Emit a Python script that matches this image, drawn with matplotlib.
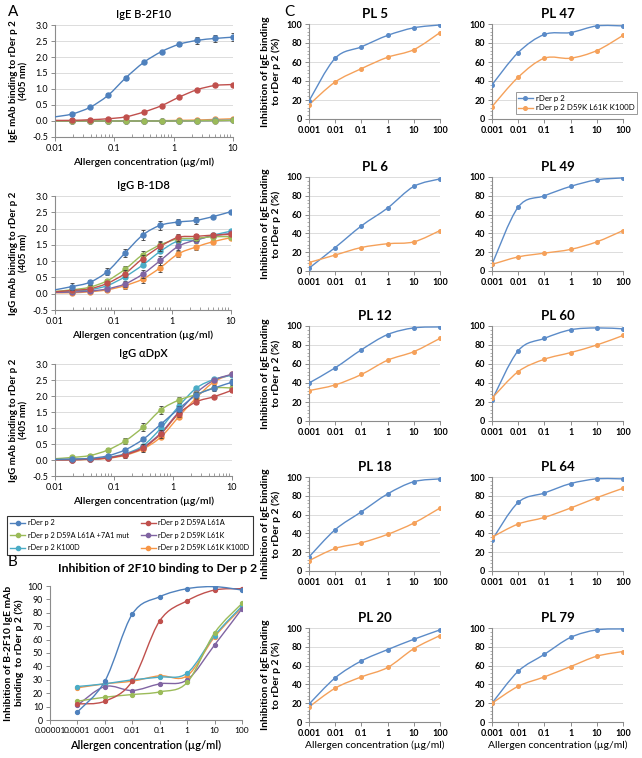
import numpy as np
import matplotlib
matplotlib.use('Agg')
import matplotlib.pyplot as plt
from matplotlib.path import Path
from matplotlib.patches import PathPatch
from matplotlib.lines import Line2D
from matplotlib.ticker import LogLocator, NullFormatter, MultipleLocator

plt.rcParams['font.family'] = ['Lato', 'DejaVu Sans']

# ---------------------------------------------------------------
# data
# ---------------------------------------------------------------
names = ['rDer p 2', 'rDer p 2 D59A L61A', 'rDer p 2 D59A L61A +7A1 mut',
         'rDer p 2 D59K L61K', 'rDer p 2 K100D', 'rDer p 2 D59K L61K K100D']
cols = ['#4F81BD', '#C0504D', '#9BBB59', '#8064A2', '#4BACC6', '#F79646']

# panel A: first value (0.01) is where the fitted curve starts, no marker there
conc_a = [0.01, 0.0195, 0.039, 0.078, 0.156, 0.3125, 0.625, 1.25, 2.5, 5, 10]

ige_2f10 = [
    [0.13, 0.22, 0.43, 0.80, 1.35, 1.83, 2.17, 2.40, 2.52, 2.58, 2.62],
    [0.02, 0.02, 0.04, 0.07, 0.13, 0.28, 0.48, 0.75, 0.98, 1.11, 1.14],
    [0.0, 0.0, 0.0, 0.0, 0.0, 0.0, 0.0, 0.0, 0.01, 0.01, 0.02],
    [0.0, 0.0, 0.0, 0.0, 0.0, 0.0, 0.0, 0.0, 0.01, 0.01, 0.02],
    [0.0, 0.0, 0.0, 0.0, 0.0, 0.0, 0.0, 0.01, 0.01, 0.02, 0.02],
    [0.0, 0.0, 0.0, 0.0, 0.0, 0.0, 0.01, 0.02, 0.03, 0.05, 0.07],
]
ige_2f10_err = [0, 0, 0.02, 0.06, 0.06, 0.03, 0.03, 0.05, 0.10, 0.12, 0.13]

igg_1d8 = [
    [0.12, 0.22, 0.35, 0.68, 1.25, 1.80, 2.10, 2.20, 2.25, 2.37, 2.52],
    [0.06, 0.10, 0.15, 0.32, 0.62, 1.08, 1.45, 1.73, 1.76, 1.80, 1.82],
    [0.07, 0.12, 0.20, 0.40, 0.75, 1.20, 1.50, 1.68, 1.70, 1.75, 1.75],
    [0.04, 0.05, 0.08, 0.15, 0.30, 0.60, 1.02, 1.45, 1.65, 1.78, 1.85],
    [0.05, 0.08, 0.12, 0.25, 0.52, 0.88, 1.30, 1.62, 1.65, 1.80, 1.92],
    [0.03, 0.03, 0.06, 0.12, 0.25, 0.45, 0.80, 1.22, 1.43, 1.60, 1.72],
]
igg_1d8_err = [0, 0.10, 0.07, 0.10, 0.13, 0.15, 0.13, 0.10, 0.12, 0.03, 0.02]
igg_1d8_err2 = [0, 0.03, 0.04, 0.06, 0.10, 0.12, 0.13, 0.10, 0.08, 0.05, 0.05]

igg_dpx = [
    [0.02, 0.03, 0.05, 0.13, 0.32, 0.65, 1.12, 1.60, 2.03, 2.25, 2.43],
    [0.01, 0.01, 0.03, 0.06, 0.17, 0.38, 0.82, 1.45, 1.82, 1.98, 2.18],
    [0.04, 0.08, 0.14, 0.31, 0.60, 1.03, 1.57, 1.87, 2.05, 2.25, 2.25],
    [0.01, 0.01, 0.03, 0.07, 0.18, 0.40, 0.85, 1.50, 2.10, 2.50, 2.68],
    [0.01, 0.02, 0.04, 0.08, 0.20, 0.45, 1.00, 1.68, 2.25, 2.52, 2.65],
    [0.0, 0.0, 0.02, 0.05, 0.15, 0.35, 0.72, 1.35, 1.95, 2.45, 2.68],
]
igg_dpx_err = [0, 0.02, 0.03, 0.04, 0.05, 0.07, 0.06, 0.10, 0.08, 0.08, 0.10]

# panel B
conc_b = [0.0001, 0.001, 0.01, 0.1, 1, 10, 100]
inhib_2f10 = [
    [6, 29, 79, 92, 98, 99.5, 97],
    [12, 14, 29, 74, 89, 97, 98],
    [14, 17, 19, 21, 28, 65, 87],
    [11, 25, 22, 27, 30, 56, 83],
    [25, 27, 30, 32, 35, 63, 85],
    [24, 27, 29, 33, 33, 62, 84],
]

# panel C: patient sera
conc_c = [0.001, 0.01, 0.1, 1, 10, 100]
sera = ['PL 5', 'PL 47', 'PL 6', 'PL 49', 'PL 12', 'PL 60', 'PL 18', 'PL 64', 'PL 20', 'PL 79']
wt = [
    [19, 64, 76, 88, 96, 99],
    [36, 70, 89, 91, 98, 98],
    [3, 25, 48, 67, 90, 98],
    [7, 68, 80, 90, 97, 99],
    [40, 56, 75, 91, 98, 99],
    [22, 74, 87, 96, 98, 97],
    [15, 44, 63, 82, 95, 98],
    [33, 73, 83, 93, 98, 98],
    [19, 47, 65, 77, 88, 98],
    [20, 54, 72, 90, 98, 99],
]
mut = [
    [15, 39, 53, 65, 73, 91],
    [13, 44, 64, 64, 72, 88],
    [9, 17, 25, 29, 31, 43],
    [7, 15, 19, 23, 31, 43],
    [32, 38, 49, 64, 73, 87],
    [24, 52, 65, 72, 80, 90],
    [11, 24, 30, 39, 51, 67],
    [36, 50, 57, 67, 78, 88],
    [16, 36, 48, 58, 78, 92],
    [20, 38, 48, 59, 70, 75],
]
c_blue = '#5B8BC8'
c_orange = '#F5A15A'

xl_text = 'Allergen concentration (\u00b5g/ml)'
spine_col = '#8C8C8C'
grid_col = '#DCDCDC'


def smooth(ax, x, y, color, lw=1.0, z=2):
    # excel-like smoothed line: catmull-rom as bezier segments in log-x space
    lx = np.log10(x)
    y = np.asarray(y, float)
    n = len(lx)
    verts = [(x[0], y[0])]
    codes = [Path.MOVETO]
    for i in range(n - 1):
        a = i - 1 if i > 0 else i
        b = i + 2 if i + 2 < n else i + 1
        c1 = (lx[i] + (lx[i + 1] - lx[a]) / 6, y[i] + (y[i + 1] - y[a]) / 6)
        c2 = (lx[i + 1] - (lx[b] - lx[i]) / 6, y[i + 1] - (y[b] - y[i]) / 6)
        verts += [(10 ** c1[0], c1[1]), (10 ** c2[0], c2[1]), (x[i + 1], y[i + 1])]
        codes += [Path.CURVE4] * 3
    ax.add_patch(PathPatch(Path(verts, codes), fill=False, edgecolor=color, lw=lw, zorder=z))


W, H = 642, 758
fig = plt.figure(figsize=(W / 100, H / 100), dpi=100)


def px_axes(l, t, r, b):
    return fig.add_axes([l / W, 1 - b / H, (r - l) / W, (b - t) / H])


def style(ax, grid=True):
    for s in ['top', 'right']:
        ax.spines[s].set_visible(False)
    for s in ['left', 'bottom']:
        ax.spines[s].set_color(spine_col)
        ax.spines[s].set_linewidth(0.8)
    ax.set_xscale('log')
    ax.xaxis.set_minor_locator(LogLocator(base=10, subs=np.arange(2, 10)))
    ax.xaxis.set_minor_formatter(NullFormatter())
    ax.tick_params(axis='both', which='major', color=spine_col, length=3, width=0.7, pad=2)
    ax.tick_params(axis='x', which='minor', direction='in', color=spine_col, length=2, width=0.6)
    if grid:
        ax.yaxis.grid(True, color=grid_col, lw=0.7)
        ax.set_axisbelow(True)


# ---------------- panel A ----------------
a_rects = [(55, 25, 233, 137), (55, 196, 231, 310), (55, 364, 232, 476)]
a_titles = ['IgE B-2F10', 'IgG B-1D8', 'IgG \u03b1DpX']
a_ylabels = ['IgE mAb binding to rDer p 2\n(405 nm)', 'IgG mAb binding to rDer p 2\n(405 nm)',
             'IgG mAb binding to rDer p 2\n(405 nm)']
a_data = [ige_2f10, igg_1d8, igg_dpx]
a_err = [ige_2f10_err, igg_1d8_err, igg_dpx_err]

for k in range(3):
    ax = px_axes(*a_rects[k])
    style(ax)
    for j in [5, 4, 3, 2, 1, 0]:
        yv = a_data[k][j]
        smooth(ax, conc_a, yv, cols[j], lw=1.0, z=2 + (6 - j) * 0.1)
        err = None
        if j == 0:
            err = a_err[k][1:]
        elif k == 1 and j in (1, 2, 3, 5):
            err = igg_1d8_err2[1:]
        elif k == 2 and j in (1, 2):
            err = igg_1d8_err2[1:]
        ax.errorbar(conc_a[1:], yv[1:], yerr=err, fmt='o', ms=3.6, color=cols[j],
                    ecolor='#3A3A3A', elinewidth=0.6, capsize=1.6, capthick=0.6,
                    zorder=3 + (6 - j) * 0.1)
    ax.set_xlim(0.01, 10)
    ax.set_ylim(-0.5, 3.0)
    ax.set_yticks(np.arange(-0.5, 3.01, 0.5))
    ax.set_yticklabels(['%.1f' % v for v in np.arange(-0.5, 3.01, 0.5)], fontsize=6.5)
    ax.set_xticks([0.01, 0.1, 1, 10])
    ax.set_xticklabels(['0.01', '0.1', '1', '10'], fontsize=6.5)
    ax.set_title(a_titles[k], fontsize=8, fontweight='semibold', pad=5)
    ax.set_ylabel(a_ylabels[k], fontsize=7, fontweight='bold', labelpad=3, linespacing=1.1)
    ax.set_xlabel(xl_text, fontsize=7.5, fontweight='semibold', labelpad=3)

# legend for panel A
handles = [Line2D([], [], color=cols[j], marker='o', ms=3, lw=1) for j in range(6)]
order = [0, 2, 4, 1, 3, 5]
leg = fig.legend([handles[j] for j in order], [names[j] for j in order], ncol=2,
                 loc='upper left', bbox_to_anchor=(3 / W, 1 - 512 / H), fontsize=5.3,
                 frameon=True, fancybox=False, edgecolor='black', handlelength=2.0,
                 columnspacing=1.6, borderpad=0.5, labelspacing=0.75, handletextpad=0.4)
leg.get_frame().set_linewidth(0.8)

# ---------------- panel B ----------------
ax = px_axes(50, 586, 242, 720)
style(ax, grid=False)
for j in [5, 4, 3, 2, 1, 0]:
    smooth(ax, conc_b, inhib_2f10[j], cols[j], lw=1.0, z=2 + (6 - j) * 0.1)
    ax.plot(conc_b, inhib_2f10[j], 'o', ms=2.8, color=cols[j], zorder=3 + (6 - j) * 0.1)
ax.set_xlim(0.00001, 100)
ax.set_ylim(0, 100)
ax.set_yticks(np.arange(0, 101, 10))
ax.set_yticklabels([str(v) for v in range(0, 101, 10)], fontsize=6.3)
ax.set_xticks([0.00001, 0.0001, 0.001, 0.01, 0.1, 1, 10, 100])
ax.set_xticklabels(['0.00001', '0.0001', '0.001', '0.01', '0.1', '1', '10', '100'], fontsize=6.0)
ax.set_title('Inhibition of 2F10 binding to Der p 2', fontsize=8.8, fontweight='bold', pad=10, x=0.56)
ax.set_ylabel('Inhibition of B-2F10 IgE mAb\nbinding  to rDer p 2 (%)', fontsize=7.5,
              fontweight='bold', labelpad=3, linespacing=1.15)
ax.set_xlabel(xl_text, fontsize=8, fontweight='semibold', labelpad=4)

# ---------------- panel C ----------------
c_cols_x = [(309, 440), (492, 623)]
c_rows_y = [(24, 119), (177, 271), (326, 421), (477, 571), (628, 722)]
for i, pl in enumerate(sera):
    r, c = divmod(i, 2)
    ax = px_axes(c_cols_x[c][0], c_rows_y[r][0], c_cols_x[c][1], c_rows_y[r][1])
    style(ax)
    smooth(ax, conc_c, wt[i], c_blue, lw=1.0)
    smooth(ax, conc_c, mut[i], c_orange, lw=1.0)
    ax.plot(conc_c, wt[i], 'o', ms=2.6, color=c_blue, zorder=3)
    ax.plot(conc_c, mut[i], 'o', ms=2.6, color=c_orange, zorder=3)
    ax.set_xlim(0.001, 100)
    ax.set_ylim(0, 100)
    ax.set_yticks(np.arange(0, 101, 20))
    ax.yaxis.set_minor_locator(MultipleLocator(4))
    ax.tick_params(axis='y', which='minor', color=spine_col, length=1.5, width=0.5)
    ax.set_yticklabels([str(v) for v in range(0, 101, 20)], fontsize=6.5, fontweight='bold')
    ax.set_xticks(conc_c)
    ax.set_xticklabels(['0.001', '0.01', '0.1', '1', '10', '100'], fontsize=6.5, fontweight='bold')
    ax.set_title(pl, fontsize=9.5, fontweight='bold', pad=4)
    if c == 0:
        ax.set_ylabel('Inhibition of IgE binding\nto rDer p 2 (%)', fontsize=7.5,
                      fontweight='bold', labelpad=4, linespacing=1.15)
    if r == 4:
        ax.set_xlabel(xl_text, fontsize=7.5, labelpad=2)
    if i == 1:
        hl = [Line2D([], [], color=c_blue, marker='o', ms=2.6, lw=1),
              Line2D([], [], color=c_orange, marker='o', ms=2.6, lw=1)]
        lg = ax.legend(hl, ['rDer p 2', 'rDer p 2 D59K L61K K100D'], loc='lower left',
                       bbox_to_anchor=(0.18, 0.05), fontsize=5.7, frameon=True, fancybox=False,
                       edgecolor='#808080', borderpad=0.35, labelspacing=0.3,
                       handlelength=1.8, handletextpad=0.4, borderaxespad=0)
        lg.get_frame().set_linewidth(0.7)

# panel letters
fig.text(8 / W, 1 - 12 / H, 'A', fontsize=11, va='center', ha='left')
fig.text(8 / W, 1 - 562 / H, 'B', fontsize=11, va='center', ha='left')
fig.text(284 / W, 1 - 12 / H, 'C', fontsize=11, va='center', ha='left')

fig.savefig('out.png', dpi=100)
